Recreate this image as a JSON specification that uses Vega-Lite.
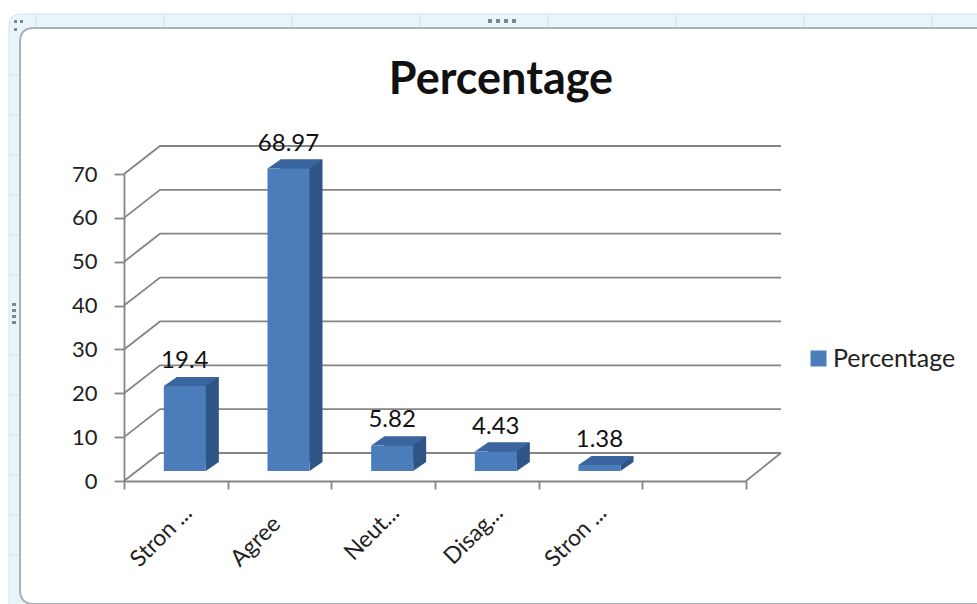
{
"$schema":"https://vega.github.io/schema/vega-lite/v6.json",
"width":622,"height":307,
"autosize":{"type":"none"},
"padding":{"left":124,"top":174,"right":231,"bottom":123},
"background":"#ffffff",
"view":{"stroke":null},
"title":{"text":"Percentage","font":"Lato","fontSize":45,"fontWeight":"bold","color":"#111111","anchor":"middle","frame":"group","dx":66,"offset":-91},
"datasets":{
"answers":[{"category":"Strongly Agree","value":19.4},{"category":"Agree","value":68.97},{"category":"Neutral","value":5.82},{"category":"Disagree","value":4.43},{"category":"Strongly Disagree","value":1.38}],
"grid":[{"v":0},{"v":10},{"v":20},{"v":30},{"v":40},{"v":50},{"v":60},{"v":70}],
"frame":[{"part":"frame"}]
},
"layer":[
{"data":{"name":"frame"},
 "mark":{"type":"point","filled":true,"size":4,"fill":"#e9f6f9","stroke":"#d5e2e4","strokeWidth":1,"opacity":1,
 "shape":"M-103 -467L860 -467L860 130L-115 130L-115 -455Q-115 -467 -103 -467Z"},
 "encoding":{"x":{"datum":"Strongly Agree","bandPosition":0,"type":"nominal","title":null,"scale":{"domain":["Strongly Agree","Agree","Neutral","Disagree","Strongly Disagree"," "]}},"y":{"datum":0,"type":"quantitative","title":null,"scale":{"domain":[0,70],"nice":false}}}},
{"data":{"name":"frame"},
 "mark":{"type":"point","filled":false,"size":4,"stroke":"#cfe0e3","strokeWidth":1,"opacity":1,
 "shape":"M-88 -467L-88 -453M40 -467L40 -453M168 -467L168 -453M296 -467L296 -453M424 -467L424 -453M552 -467L552 -453M680 -467L680 -453M808 -467L808 -453M-115 -406L-104 -406M-115 -366L-104 -366M-115 -326L-104 -326M-115 -286L-104 -286M-115 -246L-104 -246M-115 -206L-104 -206M-115 -126L-104 -126M-115 -86L-104 -86M-115 -46L-104 -46M-115 -6L-104 -6M-115 34L-104 34M-115 74L-104 74"},
 "encoding":{"x":{"datum":"Strongly Agree","bandPosition":0,"type":"nominal","title":null},"y":{"datum":0,"type":"quantitative","title":null}}},
{"data":{"name":"frame"},
 "mark":{"type":"point","filled":true,"size":4,"fill":"#ffffff","stroke":"#a9b2b4","strokeWidth":2,"opacity":1,
 "shape":"M-90 -453L860 -453L860 123L-90 123Q-104 123 -104 109L-104 -439Q-104 -453 -90 -453Z"},
 "encoding":{"x":{"datum":"Strongly Agree","bandPosition":0,"type":"nominal","title":null},"y":{"datum":0,"type":"quantitative","title":null}}},
{"data":{"name":"frame"},
 "mark":{"type":"point","filled":true,"size":4,"fill":"#7d8a8d","strokeWidth":0,"opacity":1,
 "shape":"M364 -462h4v4h-4zM372 -462h4v4h-4zM380 -462h4v4h-4zM388 -462h4v4h-4zM-112 -178h4v3h-4zM-112 -172h4v3h-4zM-112 -166h4v3h-4zM-112 -160h4v3h-4zM-110 -461h3v3h-3zM-104 -461h3v3h-3zM-110 -453h3v3h-3z"},
 "encoding":{"x":{"datum":"Strongly Agree","bandPosition":0,"type":"nominal","title":null},"y":{"datum":0,"type":"quantitative","title":null}}},
{"data":{"name":"grid"},
 "mark":{"type":"point","filled":false,"size":4,"stroke":"#858585","strokeWidth":1.8,"opacity":1,"shape":"M0 0L36 -28L657 -28"},
 "encoding":{"x":{"datum":"Strongly Agree","bandPosition":0,"type":"nominal","title":null},"y":{"field":"v","type":"quantitative","title":null}}},
{"data":{"name":"frame"},
 "mark":{"type":"point","filled":false,"size":4,"stroke":"#858585","strokeWidth":1.8,"opacity":1,"shape":"M0 0L35 -28"},
 "encoding":{"x":{"datum":" ","bandPosition":1,"type":"nominal","title":null},"y":{"datum":0,"type":"quantitative","title":null}}},
{"data":{"name":"answers"},
 "mark":{"type":"bar","size":42,"xOffset":22,"yOffset":-19,"color":"#2f5586"},
 "encoding":{"x":{"field":"category","type":"nominal","title":null},"y":{"field":"value","type":"quantitative","title":null}}},
{"data":{"name":"answers"},
 "mark":{"type":"point","filled":true,"size":4,"fill":"#2f5586","strokeWidth":0,"opacity":1,"shape":"M30 -10L43 -19L30 -19Z"},
 "encoding":{"x":{"field":"category","type":"nominal","title":null},"y":{"datum":0,"type":"quantitative","title":null}}},
{"data":{"name":"answers"},
 "mark":{"type":"point","filled":true,"size":4,"fill":"#3a659e","strokeWidth":0,"opacity":1,"shape":"M-12 -10L1 -19L43 -19L30 -10Z"},
 "encoding":{"x":{"field":"category","type":"nominal","title":null},"y":{"field":"value","type":"quantitative","title":null}}},
{"data":{"name":"answers"},
 "mark":{"type":"bar","size":42,"xOffset":9,"yOffset":-10},
 "encoding":{
  "x":{"field":"category","type":"nominal","title":null,
   "axis":{"zindex":1,"tickBand":"extent","labelAngle":-45,"labelAlign":"right","labelBaseline":"middle","labelFont":"Lato","labelFontSize":23,"labelColor":"#222222",
   "labelPadding":{"condition":{"test":"datum.value=='Agree'","value":31},"value":20},
   "labelOffset":{"condition":{"test":"datum.value=='Agree'","value":-3},"value":12},
   "tickSize":8,"tickWidth":1.8,"tickColor":"#858585","domainColor":"#858585","domainWidth":1.8,"labelOverlap":false,"labelBound":false,
   "labelExpr":"datum.label=='Agree'?'Agree':trim(datum.label)==''?'':datum.label=='Neutral'?'Neut...':datum.label=='Disagree'?'Disag...':'Stron ...'"}},
  "y":{"field":"value","type":"quantitative","title":null,
   "axis":{"zindex":1,"values":[0,10,20,30,40,50,60,70],"grid":false,"labelFont":"Lato","labelFontSize":22,"labelColor":"#222222","labelPadding":17,"tickSize":10,"tickWidth":1.8,"tickColor":"#858585","domainColor":"#858585","domainWidth":1.8}},
  "color":{"datum":"Percentage","scale":{"range":["#4a7dba"]},
   "legend":{"title":null,"orient":"none","legendX":682,"legendY":172,"symbolType":"square","symbolSize":256,"symbolStrokeWidth":0,"labelFont":"Lato","labelFontSize":25,"labelColor":"#222222","labelOffset":2}}
 }},
{"data":{"name":"answers"},
 "mark":{"type":"text","font":"Lato","fontSize":24,"color":"#111111","dx":9,"dy":-35},
 "encoding":{"x":{"field":"category","type":"nominal","title":null},"y":{"field":"value","type":"quantitative","title":null},"text":{"field":"value","type":"quantitative"}}}
]
}
